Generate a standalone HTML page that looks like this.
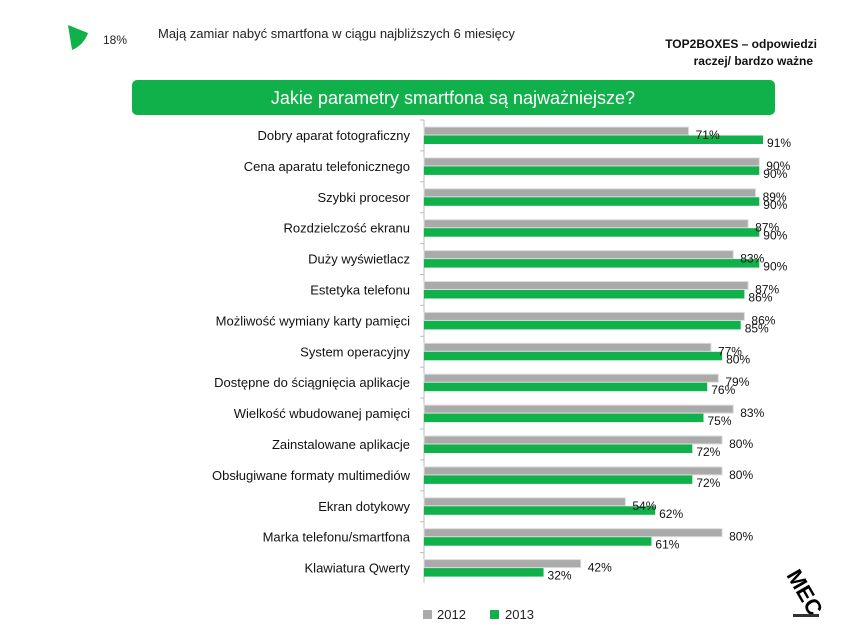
<!DOCTYPE html>
<html><head><meta charset="utf-8"><style>
body{margin:0;background:#fff;width:851px;height:629px;overflow:hidden;font-family:"Liberation Sans",sans-serif;}
</style></head><body>
<svg width="851" height="629" xmlns="http://www.w3.org/2000/svg" font-family="Liberation Sans, sans-serif">
<path d="M68,25 L88,33 A28,28 0 0 1 72,50 Z" fill="#10b04a"/>
<text x="103" y="44" font-size="12" fill="#222">18%</text>
<text x="158" y="38" font-size="13" fill="#222">Mają zamiar nabyć smartfona w ciągu najbliższych 6 miesięcy</text>
<text x="817" y="48" font-size="12" font-weight="bold" text-anchor="end" fill="#111">TOP2BOXES – odpowiedzi</text>
<text x="813" y="65" font-size="12" font-weight="bold" text-anchor="end" fill="#111">raczej/ bardzo ważne</text>
<rect x="132" y="80" width="643" height="35" rx="5" fill="#10b04a"/>
<text x="453" y="104" font-size="18" fill="#fff" text-anchor="middle">Jakie parametry smartfona są najważniejsze?</text>
<line x1="424" y1="120" x2="424" y2="583" stroke="#bbb" stroke-width="1"/>
<g id="rows"></g>
<rect x="423" y="610" width="9" height="9" fill="#aaa"/>
<text x="437" y="619" font-size="13" fill="#222">2012</text>
<rect x="490" y="610" width="9" height="9" fill="#10b04a"/>
<text x="505" y="619" font-size="13" fill="#222">2013</text>
<text x="0" y="0" font-size="22" font-weight="bold" fill="#000" transform="translate(786,575) rotate(60)">MEC</text>
<rect x="793" y="614" width="26" height="3" fill="#333"/>
</svg>
<script>
var d=[["Dobry aparat fotograficzny",71,91],["Cena aparatu telefonicznego",90,90],["Szybki procesor",89,90],["Rozdzielczość ekranu",87,90],["Duży wyświetlacz",83,90],["Estetyka telefonu",87,86],["Możliwość wymiany karty pamięci",86,85],["System operacyjny",77,80],["Dostępne do ściągnięcia aplikacje",79,76],["Wielkość wbudowanej pamięci",83,75],["Zainstalowane aplikacje",80,72],["Obsługiwane formaty multimediów",80,72],["Ekran dotykowy",54,62],["Marka telefonu/smartfona",80,61],["Klawiatura Qwerty",42,32]];
var g=document.getElementById("rows"),s="";
function w(v){return 3.72*v+0.5;}
d.forEach(function(r,i){var y=127+i*30.9;
s+='<text x="410" y="'+(y+13)+'" font-size="13" text-anchor="end" fill="#111">'+r[0]+'</text>';
s+='<rect x="424" y="'+y+'" width="'+w(r[1])+'" height="8" fill="#aaa" stroke="#ddd" stroke-width="1"/>';
s+='<rect x="424" y="'+(y+8.5)+'" width="'+w(r[2])+'" height="8.5" fill="#10b04a"/>';
s+='<text x="'+(424+w(r[1])+7)+'" y="'+(y+12)+'" font-size="12" fill="#111">'+r[1]+'%</text>';
s+='<text x="'+(424+w(r[2])+4)+'" y="'+(y+20)+'" font-size="12" fill="#111">'+r[2]+'%</text>';
s+='<line x1="420" y1="'+(y-7)+'" x2="424" y2="'+(y-7)+'" stroke="#bbb"/>';
});
g.innerHTML=s;
</script>
</body></html>
